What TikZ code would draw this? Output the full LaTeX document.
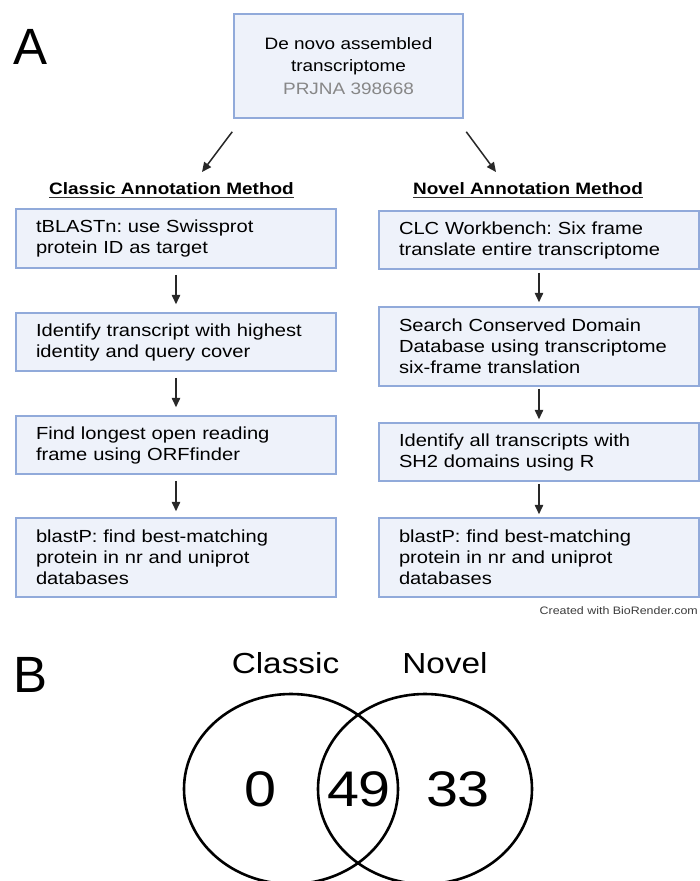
\documentclass[tikz,border=0pt]{standalone}
\usepackage{fontspec}
\setmainfont[FakeStretch=1.15]{Liberation Sans}
\newfontfamily\plainsans{Liberation Sans}
\usetikzlibrary{arrows.meta}
\definecolor{boxline}{RGB}{145,170,218}
\definecolor{boxfill}{RGB}{238,242,250}
\definecolor{arrcol}{RGB}{40,40,40}
\definecolor{idgray}{RGB}{135,135,135}
\definecolor{creditcol}{RGB}{60,60,60}
\tikzset{
  stepbox/.style={draw=boxline, fill=boxfill, line width=1.5pt, minimum width=320pt,
    text width=280pt, inner xsep=20pt, inner ysep=0pt, align=left,
    font=\fontsize{17.5}{21}\selectfont},
  topbox/.style={draw=boxline, fill=boxfill, line width=1.5pt, minimum width=229pt,
    minimum height=104pt, align=center, inner sep=0pt,
    font=\fontsize{16.5}{22.5}\selectfont},
  flowarr/.style={draw=arrcol, line width=1.5pt, -{Triangle[length=9.5pt,width=8.5pt]}},
  header/.style={font=\bfseries\fontsize{16.5}{20}\selectfont, inner sep=0pt, anchor=base},
  underl/.style={draw=black!80, line width=1.3pt},
  panel/.style={font=\plainsans\fontsize{51}{51}\selectfont, inner sep=0pt, anchor=base west},
  vennlab/.style={font=\fontsize{29}{29}\selectfont, inner sep=0pt, anchor=base},
  vennnum/.style={font=\fontsize{50}{50}\selectfont, inner sep=0pt, anchor=base},
  venn/.style={draw=black, line width=2.6pt},
}
\frenchspacing
\begin{document}
\frenchspacing
\begin{tikzpicture}[x=1pt,y=-1pt]
\useasboundingbox (0,0) rectangle (700,881);
\clip (0,0) rectangle (700,881);
\fill[white] (0,0) rectangle (700,881);

% panel letters
\node[panel] (pA) at (13,64) {A};
\node[panel] (pB) at (13,692) {B};

% top box
\node[topbox] (top) at (348.5,66) {De novo assembled\\transcriptome\\\textcolor{idgray}{PRJNA 398668}};

% headers
\node[header] (hl) at (171.5,194) {Classic Annotation Method};
\node[header] (hr) at (528,194) {Novel Annotation Method};
\draw[underl] ([yshift=-3.5pt]hl.base west) -- ([yshift=-3.5pt]hl.base east);
\draw[underl] ([yshift=-3.5pt]hr.base west) -- ([yshift=-3.5pt]hr.base east);

% diagonal arrows
\coordinate (la) at (202,172);
\coordinate (ra) at (496,172);
\draw[flowarr] ([shift={(-1pt,-13pt)}]top.south west) -- (la);
\draw[flowarr] ([shift={(2.5pt,-13pt)}]top.south east) -- (ra);

% left column
\node[stepbox, minimum height=59pt] (L1) at (176,238.5) {tBLASTn: use Swissprot\\protein ID as target};
\node[stepbox, minimum height=58pt] (L2) at (176,342) {Identify transcript with highest\\identity and query cover};
\node[stepbox, minimum height=58pt] (L3) at (176,445) {Find longest open reading\\frame using ORFfinder};
\node[stepbox, minimum height=79pt] (L4) at (176,557.5) {blastP: find best-matching\\protein in nr and uniprot\\databases};

% right column
\node[stepbox, minimum height=58pt] (R1) at (539,240) {CLC Workbench: Six frame\\translate entire transcriptome};
\node[stepbox, minimum height=79pt] (R2) at (539,346.5) {Search Conserved Domain\\Database using transcriptome\\six-frame translation};
\node[stepbox, minimum height=58pt] (R3) at (539,452) {Identify all transcripts with\\SH2 domains using R};
\node[stepbox, minimum height=79pt] (R4) at (539,557.5) {blastP: find best-matching\\protein in nr and uniprot\\databases};

% vertical arrows
\draw[flowarr] ([yshift=-6pt]L1.south) -- ([yshift=8pt]L2.north);
\draw[flowarr] ([yshift=-6pt]L2.south) -- ([yshift=8pt]L3.north);
\draw[flowarr] ([yshift=-6pt]L3.south) -- ([yshift=6pt]L4.north);
\draw[flowarr] ([yshift=-3pt]R1.south) -- ([yshift=4pt]R2.north);
\draw[flowarr] ([yshift=-2pt]R2.south) -- ([yshift=3pt]R3.north);
\draw[flowarr] ([yshift=-2pt]R3.south) -- ([yshift=3pt]R4.north);

% credit
\node[font=\fontsize{10.8}{12}\selectfont, text=creditcol, inner sep=0pt, anchor=base east] (credit) at (698,614) {Created with BioRender.com};

% Venn
\draw[venn] (291,789) ellipse [x radius=107pt, y radius=95pt];
\draw[venn] (425,789) ellipse [x radius=107pt, y radius=95pt];
\node[vennlab] (lc) at (285.5,673) {Classic};
\node[vennlab] (ln) at (445,673) {Novel};
\node[vennnum] (n0) at (260,806) {0};
\node[vennnum] (n49) at (359,806) {49};
\node[vennnum] (n33) at (458,806) {33};
\end{tikzpicture}
\end{document}
